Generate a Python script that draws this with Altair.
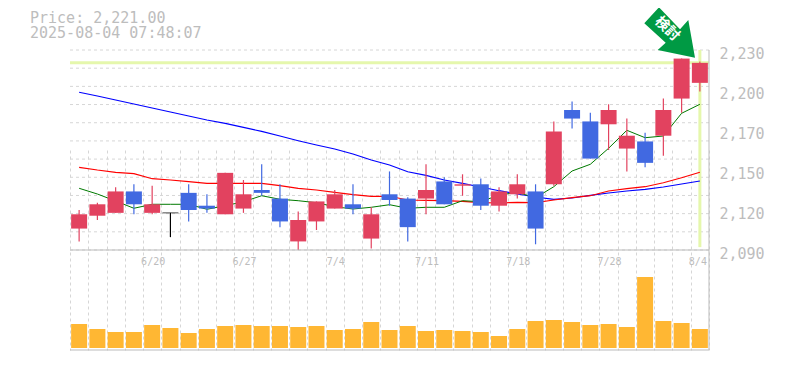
import altair as alt
import pandas as pd

FONT = "DejaVu Sans Mono"
GRAY = "#bdbdbd"
GRID = "#d6d6d6"

opens = [2105,2114,2116,2131,2116,2116,2130,2121,2115,2119,2132,2126,2096,2110,2119,2122,2098,2129,2126,2126,2138,2135,2136,2121,2129,2131,2136,2188,2180,2178,2161,2166,2170,2196,2207]
highs = [2118,2123,2134,2136,2135,2116,2136,2129,2144,2139,2150,2136,2117,2124,2132,2136,2120,2145,2127,2150,2141,2143,2140,2134,2143,2136,2180,2194,2186,2192,2182,2172,2196,2224,2222]
lows = [2096,2111,2116,2115,2115,2099,2110,2116,2115,2116,2128,2106,2090,2104,2119,2115,2091,2121,2096,2115,2122,2128,2118,2117,2126,2094,2135,2175,2154,2160,2145,2148,2156,2186,2201]
closes = [2115,2122,2131,2122,2122,2116,2118,2119,2144,2129,2130,2110,2111,2124,2129,2119,2115,2125,2106,2132,2122,2136,2121,2131,2136,2105,2173,2182,2154,2188,2170,2151,2188,2224,2221]
ma_short = [2133.2,2129.2,2124.3,2119.2,2122,2122,2122,2118.5,2121,2123.8,2128,2125.5,2124.5,2123.1,2120.3,2118.7,2119.9,2121.7,2119.2,2119.9,2119.9,2124.5,2123.8,2128.5,2130.3,2126.6,2134.3,2145.3,2150,2161.2,2173.8,2168.6,2169.8,2185.7,2192]
ma_mid = [2147.9,2146,2144.4,2143.4,2139.9,2139,2137.8,2136.7,2136.7,2136.7,2136.7,2135,2133.2,2132,2130.4,2128.7,2127.6,2127.6,2125,2124.8,2124.5,2124.1,2123.1,2122.9,2123.4,2123.1,2125,2126.6,2128,2131.3,2132.9,2134.3,2137.1,2140.6,2144.4]
ma_long = [2200.4,2197.8,2195,2192.2,2189.4,2186.6,2183.8,2181,2178.6,2175.8,2173,2169.8,2166.5,2163.5,2160.7,2157.2,2153,2149.5,2144.8,2142.2,2139,2136.6,2134.1,2131.5,2129.2,2127.1,2125.5,2126.4,2128.2,2129.9,2131.3,2132.4,2134.1,2136.2,2138.3]
volumes = [24,19,16,16,23,20,15,19,22,23,22,22,21,22,18,19,26,18,22,17,18,17,16,12,19,27,28,26,23,24,21,71,27,25,19]
tick_slots = [4,9,14,19,24,29]
tick_dates = ["6/20","6/27","7/4","7/11","7/18","7/28"]
last_slot = 34
last_date = "8/4"
price_ticks = [2090,2118,2146,2174,2202,2230]
price_grid = [2090 + 140 * k / 11 for k in range(12)]
last_price = 2221

n = len(closes)
df = pd.DataFrame({"slot": [i + 0.5 for i in range(n)], "open": opens, "high": highs, "low": lows,
                   "close": closes, "short": ma_short, "mid": ma_mid, "long": ma_long, "volume": volumes})
df["dir"] = ["up" if c > o else ("down" if c < o else "flat") for o, c in zip(opens, closes)]

x_axis = alt.Axis(values=list(range(n + 1)), labels=False, ticks=False, domain=False, title=None,
                  grid=True, gridColor=GRID, gridDash=[3, 3], gridWidth=1)
X = alt.X("slot:Q", scale=alt.Scale(domain=[0, n], nice=False, zero=False, padding=0), axis=x_axis)
y_scale = alt.Scale(domain=[2090, 2230], range=[200, 0], nice=False, zero=False, padding=0)
y_axis = alt.Axis(orient="right", values=price_ticks, title=None, ticks=False, domain=False, grid=False,
                  labelExpr="format(round(datum.value/10)*10, ',')", labelFont=FONT, labelFontSize=15,
                  labelColor=GRAY, labelPadding=10, labelOffset=3, labelBaseline="middle", labelBound=False)
def Y(field):
    return alt.Y(field, scale=y_scale, axis=y_axis)
col = alt.Color("dir:N", legend=None,
                scale=alt.Scale(domain=["up", "down", "flat"], range=["#e2425f", "#4169e1", "#000000"]))

base = alt.Chart(df)
grid_h = alt.Chart(pd.DataFrame({"p": price_grid})).mark_rule(color=GRID, strokeDash=[3, 3], strokeWidth=1).encode(y=Y("p:Q"))
hl_h = alt.Chart(pd.DataFrame({"p": [last_price]})).mark_rule(color="#e5f7ac", strokeWidth=3).encode(y=Y("p:Q"))
hl_v = alt.Chart(pd.DataFrame({"slot": [n - 0.5], "a": [2230], "b": [2092]})).mark_rule(color="#e5f7ac", strokeWidth=3).encode(
    x=X, y=Y("a:Q"), y2="b:Q")
def ma(field, color, w):
    return base.mark_line(color=color, strokeWidth=w).encode(x=X, y=Y(f"{field}:Q"))
wick = base.mark_rule(strokeWidth=1.2).encode(x=X, y=Y("high:Q"), y2="low:Q", color=col)
body = base.transform_filter("datum.open != datum.close").mark_bar(size=16, strokeWidth=0).encode(
    x=X, y=Y("open:Q"), y2="close:Q", color=col)
doji = base.transform_filter("datum.open == datum.close").mark_tick(orient="horizontal", size=16, thickness=1).encode(
    x=X, y=Y("close:Q"), color=col)
price_layer = alt.layer(grid_h, hl_h, hl_v, ma("long", "#0000ff", 1.2), ma("mid", "#ff0000", 1.2),
                        ma("short", "#007a00", 1), wick, body, doji)

vol = base.mark_bar(size=16, color="#ffb733", strokeWidth=0).encode(
    x=X, y=alt.Y("volume:Q", axis=None, scale=alt.Scale(domain=[0, 100], range=[298, 198], nice=False, zero=True)))
chart_top = alt.layer(price_layer, vol).resolve_scale(y="independent")

def rule(**kw):
    return alt.Chart(pd.DataFrame({"a": [0]})).mark_rule(color="#bbbbbb", strokeWidth=1).encode(**kw)
frame = [rule(x=alt.value(0), x2=alt.value(639), y=alt.value(200)),
         rule(x=alt.value(0), x2=alt.value(639), y=alt.value(300)),
         rule(x=alt.value(639), y=alt.value(0), y2=alt.value(300))]

dates = alt.Chart(pd.DataFrame({"slot": [s + 0.5 for s in tick_slots], "t": tick_dates})).mark_text(
    font=FONT, fontSize=10, color=GRAY, align="center", baseline="middle", dx=1).encode(
    x=X, y=alt.value(212), text="t:N")
date_last = alt.Chart(pd.DataFrame({"slot": [last_slot + 0.5], "t": [last_date]})).mark_text(
    font=FONT, fontSize=10, color=GRAY, align="center", baseline="middle", dx=-2).encode(
    x=X, y=alt.value(212), text="t:N")

def head(txt, yy):
    return alt.Chart(pd.DataFrame({"t": [txt]})).mark_text(font=FONT, fontSize=15, color=GRAY, align="left",
        baseline="middle").encode(x=alt.value(-40), y=alt.value(yy), text="t:N")

ARROW = "M-11,-24.7 L10,-2.7 L18.3,-12 L25,25.7 L-12.3,18 L-4.3,10.7 L-25.7,-8.7 Z"
arrow = alt.Chart(pd.DataFrame({"a": [0]})).mark_point(shape=ARROW, size=4, filled=True, opacity=1,
    color="#009a44", strokeWidth=0).encode(x=alt.value(600), y=alt.value(-18))
arrow_text = alt.Chart(pd.DataFrame({"t": ["検討"]})).mark_text(font="Noto Sans CJK JP", fontWeight="bold",
    fontSize=14, color="white", angle=45, align="center", baseline="middle").encode(
    x=alt.value(597), y=alt.value(-21), text="t:N")

chart = alt.layer(chart_top, *frame, dates, date_last, head("Price: 2,221.00", -32), head("2025-08-04 07:48:07", -17),
                  arrow, arrow_text).resolve_scale(y="independent").properties(
    width=639, height=300,
    padding={"left": 62, "top": 42, "right": 68, "bottom": 10},
    autosize=alt.AutoSizeParams(type="none"),
).configure_view(stroke=None)

chart.save("out.html", embed_options={"renderer": "svg", "actions": False})
